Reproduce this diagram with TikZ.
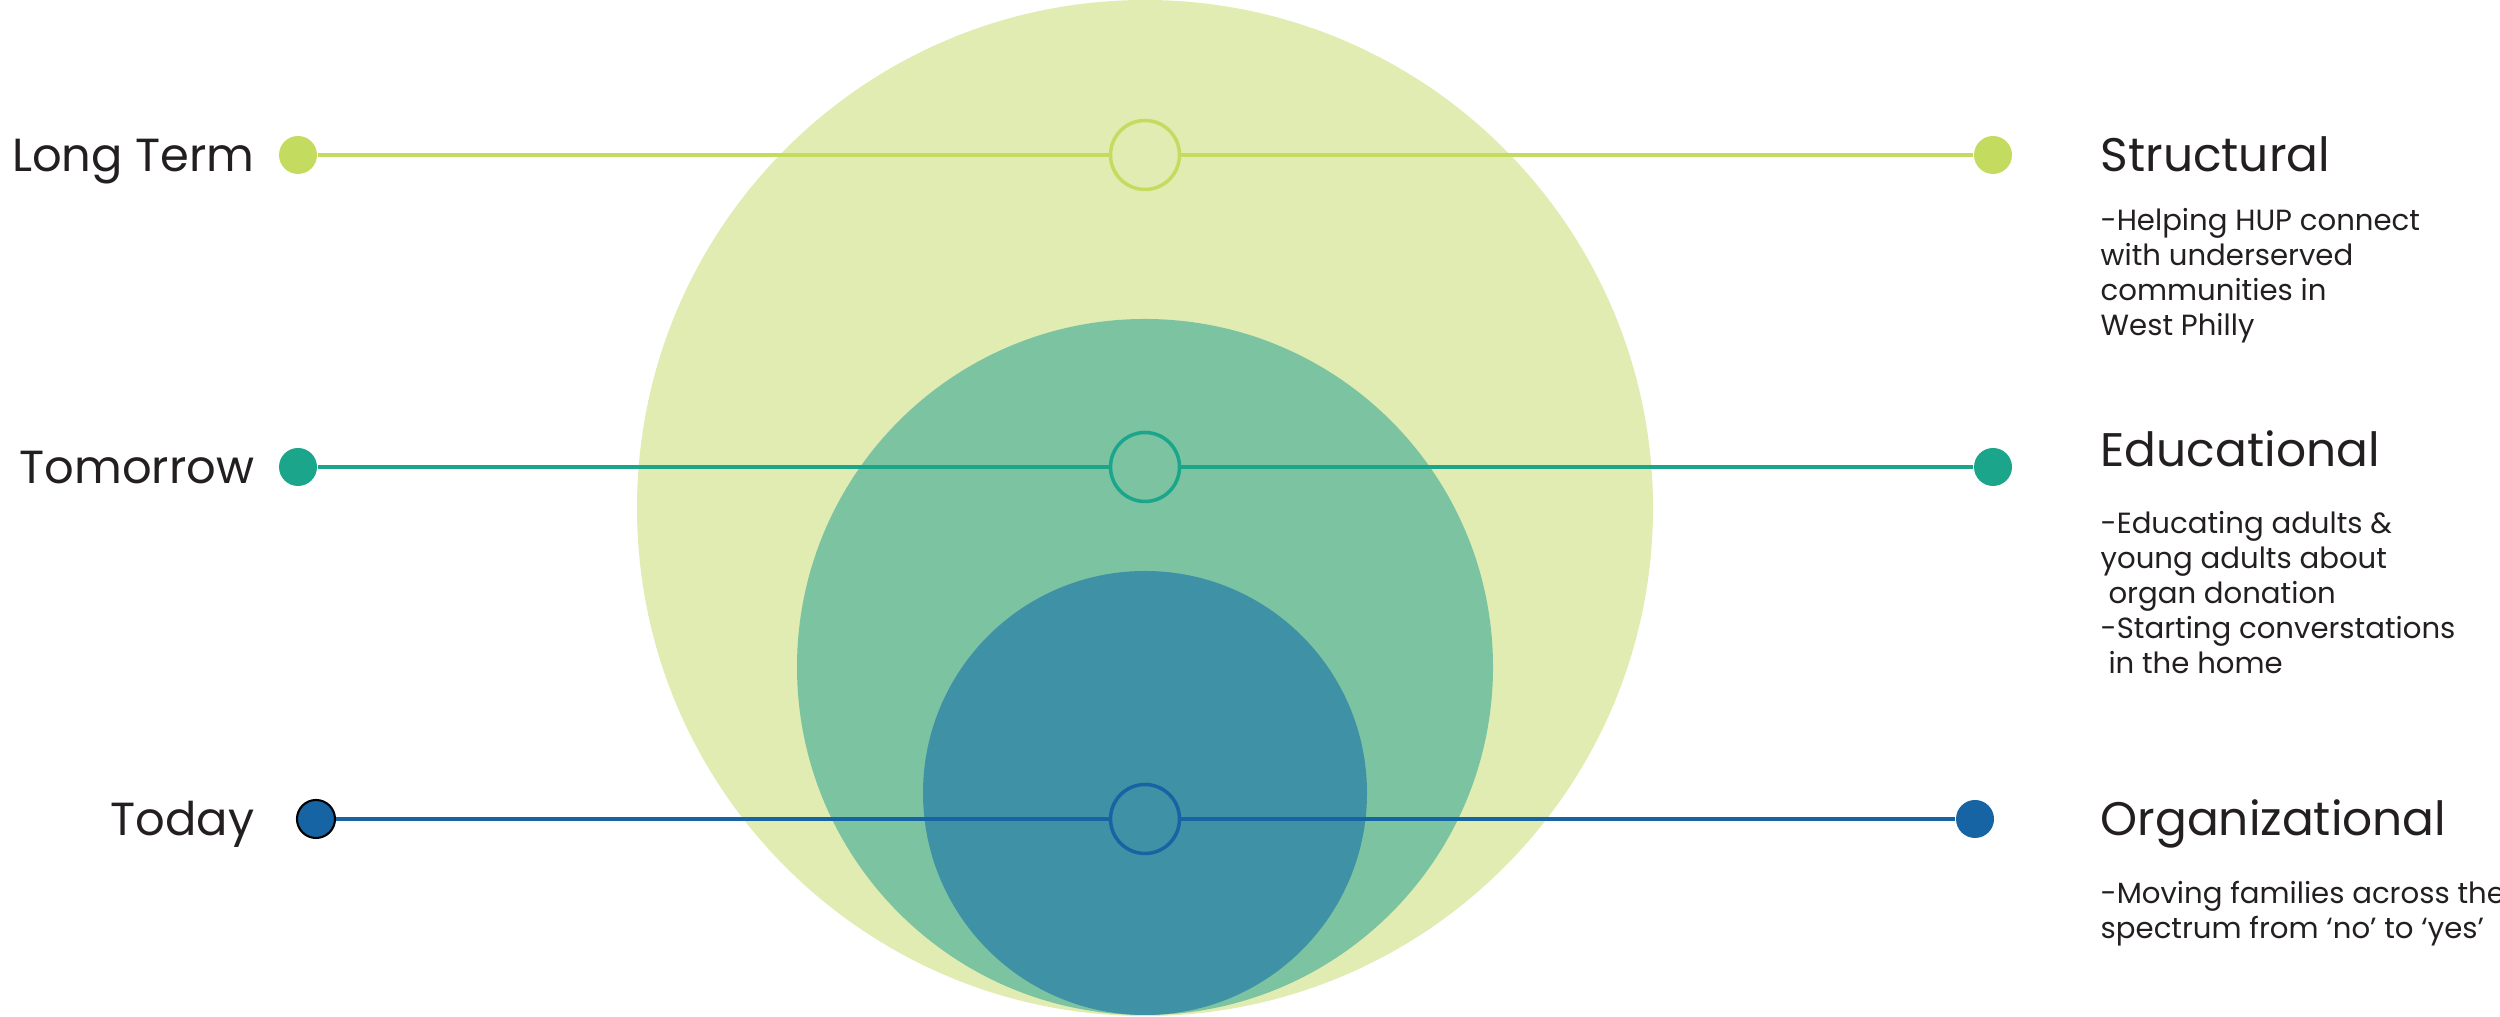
\documentclass[tikz,border=0pt]{standalone}
\usepackage{fontspec}
\setmainfont{Poppins}
\usepackage{xcolor}
\usepackage{tikz}
\usetikzlibrary{positioning,calc}
\definecolor{limepale}{RGB}{224,236,178}
\definecolor{limeline}{RGB}{195,220,96}
\definecolor{tealpale}{RGB}{124,195,162}
\definecolor{tealline}{RGB}{27,166,139}
\definecolor{bluepale}{RGB}{63,145,165}
\definecolor{blueline}{RGB}{23,100,164}
\definecolor{inkgray}{RGB}{35,31,32}
\tikzset{
  dot/.style={circle,inner sep=0pt,minimum size=0.38cm},
  ring/.style={circle,draw,line width=1pt,inner sep=0pt,minimum size=0.69cm},
  lane/.style={line width=1pt},
  timelabel/.style={anchor=base east,inner sep=0pt,text=inkgray,font=\fontsize{13.2}{16}\selectfont},
  areatitle/.style={anchor=base west,inner sep=0pt,text=inkgray,font=\fontsize{13.4}{16}\selectfont},
  areabody/.style={anchor=north west,align=left,text=inkgray,inner sep=0pt,font=\fontsize{8.3}{9.95}\selectfont}
}

\begin{document}
\begin{tikzpicture}
    \useasboundingbox (0,0) rectangle (25,10.17);
	  % nested circles
	  \fill[limepale] (11.45,5.09) circle (5.08);
	  \fill[tealpale] (11.45,3.50) circle (3.48);
	  \fill[bluepale] (11.45,2.24) circle (2.22);
	  % long term
		\node[dot,fill=limeline] (longl) at (2.98,8.62) {};
		\node[ring,draw=limeline] (longc) at (11.45,8.62) {};
		\node[dot,fill=limeline] (longr) at (19.93,8.62) {};
		\draw[lane,limeline] (longl) -- (longc); \draw[lane,limeline] (longc) -- (longr);
	  % tomorrow
		\node[dot,fill=tealline] (tomol) at (2.98,5.50) {};
		\node[ring,draw=tealline] (tomoc) at (11.45,5.50) {};
		\node[dot,fill=tealline] (tomor) at (19.93,5.50) {};
		\draw[lane,tealline] (tomol) -- (tomoc); \draw[lane,tealline] (tomoc) -- (tomor);
	  % today
		\node[dot,fill=blueline,draw=black,line width=0.6pt] (todayl) at (3.16,1.98) {};
		\node[ring,draw=blueline] (todayc) at (11.45,1.98) {};
		\node[dot,fill=blueline] (todayr) at (19.75,1.98) {};
		\draw[lane,blueline] (todayl) -- (todayc); \draw[lane,blueline] (todayc) -- (todayr);
	  % labels
		\node[timelabel] (longlbl) at (2.55,8.45) {Long Term};
		\node[timelabel] (tomolbl) at (2.55,5.33) {Tomorrow};
		\node[timelabel] (todaylbl) at (2.55,1.81) {Today};
		\node[areatitle] (structural) at (21.0,8.45) {Structural};
		\node[areatitle] (educational) at (21.0,5.50) {Educational};
		\node[areatitle] (organizational) at (21.0,1.81) {Organizational};
		\node[areabody] (structbody) at (21.0,8.09) {-Helping HUP connect\\with underserved\\communities in\\West Philly};
		\node[areabody] (edubody) at (21.0,5.06) {-Educating adults \&\\young adults about\\\ organ donation\\-Starting converstations\\\ in the home};
		\node[areabody] (orgbody) at (21.0,1.36) {-Moving families across the\\spectrum from ‘no’ to ‘yes’};
\end{tikzpicture}
\end{document}
